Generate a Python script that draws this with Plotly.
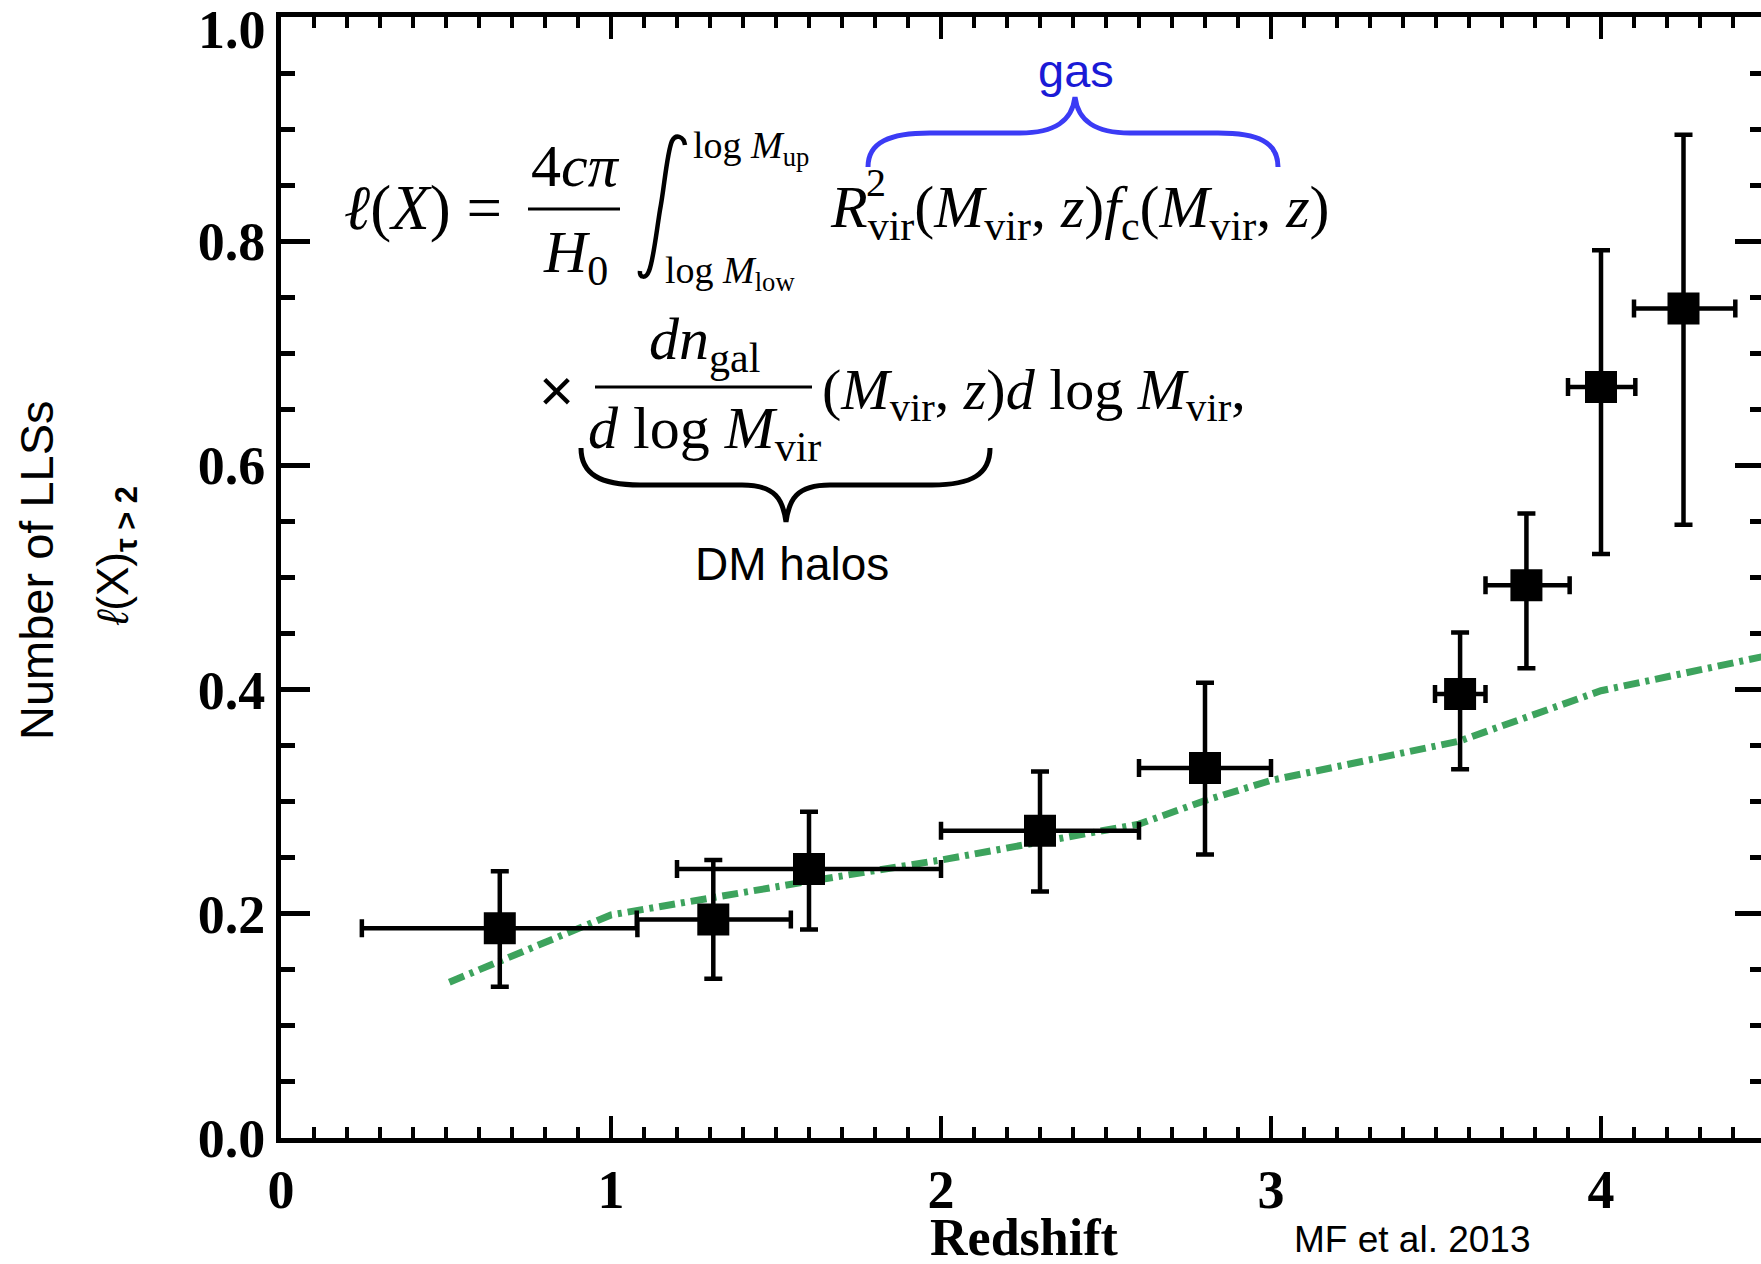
import plotly.graph_objects as go

# ---------------- data ----------------
z_center = [0.663, 1.31, 1.60, 2.30, 2.80, 3.573, 3.774, 4.00, 4.25]
z_low = [0.245, 1.078, 1.20, 2.00, 2.60, 3.497, 3.650, 3.90, 4.10]
z_high = [1.080, 1.545, 2.00, 2.60, 3.00, 3.650, 3.905, 4.104, 4.407]
lx = [0.187, 0.195, 0.240, 0.274, 0.330, 0.396, 0.493, 0.670, 0.740]
lx_low = [0.135, 0.142, 0.186, 0.220, 0.253, 0.329, 0.419, 0.521, 0.547]
lx_high = [0.238, 0.248, 0.291, 0.327, 0.406, 0.451, 0.557, 0.792, 0.895]

model_z = [0.51, 1.0, 1.6, 2.0, 2.6, 2.8, 3.0, 3.57, 4.0, 4.5]
model_l = [0.139, 0.199, 0.229, 0.248, 0.280, 0.301, 0.319, 0.354, 0.399, 0.430]

x_ticks = [0, 1, 2, 3, 4]
y_ticks = [0.0, 0.2, 0.4, 0.6, 0.8, 1.0]

# ---------------- layout geometry (pixels) ----------------
W, H = 1761, 1264
X0, Y0 = 281, 1138          # plot-area left / bottom
TOP = 17
XMAX = (W - X0) / 330.0
PXX = 330.0
PXY = float(Y0 - TOP)

SERIF = "Liberation Serif"
SANS = "Liberation Sans"


def dx(px):
    return (px - X0) / PXX


def dy(py):
    return (Y0 - py) / PXY


def ann(text, px, py, size, family=SERIF, color="black", xanchor="center",
        yanchor="middle", angle=0, weight="normal"):
    return dict(text=text, x=(px - X0) / (W - X0), y=(Y0 - py) / PXY,
                xref="paper", yref="paper",
                showarrow=False, xanchor=xanchor, yanchor=yanchor,
                textangle=angle,
                font=dict(family=family, size=size, color=color, weight=weight))


def path(cmds):
    out = []
    for c in cmds:
        if isinstance(c, str):
            out.append(c)
        else:
            out.append(f"{dx(c[0]):.5f},{dy(c[1]):.5f}")
    return " ".join(out)


fig = go.Figure()

fig.add_trace(go.Scatter(
    x=model_z, y=model_l, mode="lines",
    line=dict(color="#3da35d", width=7, dash="16px,6px,4px,6px"),
    showlegend=False, hoverinfo="skip"))

fig.add_trace(go.Scatter(
    x=z_center, y=lx, mode="markers",
    marker=dict(symbol="square", size=32, color="black"),
    error_x=dict(type="data", symmetric=False,
                 array=[h - c for h, c in zip(z_high, z_center)],
                 arrayminus=[c - l for l, c in zip(z_low, z_center)],
                 color="black", thickness=4.5, width=9),
    error_y=dict(type="data", symmetric=False,
                 array=[h - c for h, c in zip(lx_high, lx)],
                 arrayminus=[c - l for l, c in zip(lx_low, lx)],
                 color="black", thickness=4.5, width=9),
    showlegend=False, hoverinfo="skip"))

# invisible trace to host the right-hand tick axis
fig.add_trace(go.Scatter(x=[None], y=[None], yaxis="y2", showlegend=False,
                         hoverinfo="skip"))

annotations = [
    # top y tick label, nudged down so it is not clipped at the page edge
    ann(f"{y_ticks[-1]:.1f}", 268, 30, 54, weight="bold", xanchor="right"),
    # y-axis labels
    ann("Number of LLSs", 36, 570, 47, family=SANS, angle=-90),
    ann("<i>ℓ</i>(X)<sub><b>τ &gt; 2</b></sub>", 116, 556, 44, family=SANS, angle=-90),
    # x-axis title and credit
    ann("Redshift", 1024, 1237, 52, weight="bold"),
    ann("MF et al. 2013", 1412, 1239, 37, family=SANS),
    # formula line 1
    ann("<i>ℓ</i>(<i>X</i>) =", 342, 208, 63, xanchor="left"),
    ann("4<i>cπ</i>", 575, 166, 60),
    ann("<i>H</i><sub>0</sub>", 575, 256, 60),
    ann("log <i>M</i><sub>up</sub>", 691, 148, 38, xanchor="left"),
    ann("log <i>M</i><sub>low</sub>", 663, 273, 38, xanchor="left"),
    ann("<i>R</i><sub>vir</sub>(<i>M</i><sub>vir</sub>, <i>z</i>)<i>f</i><sub>c</sub>(<i>M</i><sub>vir</sub>, <i>z</i>)",
        828, 211, 60, xanchor="left"),
    ann("2", 876, 182, 40),
    # formula line 2
    ann("×", 556, 390, 60, family=SANS),
    ann("<i>dn</i><sub>gal</sub>", 704, 343, 60),
    ann("<i>d</i> log <i>M</i><sub>vir</sub>", 704, 432, 60),
    ann("(<i>M</i><sub>vir</sub>, <i>z</i>)<i>d</i> log <i>M</i><sub>vir</sub>,",
        820, 393, 58, xanchor="left"),
    # brace labels
    ann("gas", 1076, 70, 47, family=SANS, color="#1a1ad6"),
    ann("DM halos", 792, 564, 46, family=SANS),
]

shapes = [
    dict(type="line", xref="x", yref="y", x0=dx(528), x1=dx(620), y0=dy(209), y1=dy(209),
         line=dict(color="black", width=3)),
    dict(type="line", xref="x", yref="y", x0=dx(595), x1=dx(812), y0=dy(387), y1=dy(387),
         line=dict(color="black", width=3)),
    # integral sign
    dict(type="path", xref="x", yref="y", line=dict(color="black", width=4.5),
         path=path(["M", (685, 145), "C", (684, 137), (676, 133), (672, 141),
                    "C", (667, 152), (664, 190), (660, 210),
                    "C", (656, 235), (653, 262), (649, 271),
                    "C", (646, 279), (639, 278), (640, 271)])),
    # blue brace over the gas term
    dict(type="path", xref="x", yref="y", line=dict(color="#3b3bf5", width=5),
         path=path(["M", (868, 167), "C", (868, 142), (890, 133), (930, 133),
                    "L", (1020, 133), "C", (1055, 133), (1072, 121), (1075, 97),
                    "C", (1078, 121), (1095, 133), (1130, 133),
                    "L", (1218, 133), "C", (1258, 133), (1278, 142), (1278, 167)])),
    # black brace under the DM halo term
    dict(type="path", xref="x", yref="y", line=dict(color="black", width=5),
         path=path(["M", (581, 448), "C", (581, 474), (600, 485), (640, 485),
                    "L", (742, 485), "C", (776, 485), (783, 500), (786, 522),
                    "C", (789, 500), (796, 485), (830, 485),
                    "L", (932, 485), "C", (972, 485), (990, 474), (990, 448)])),
]

tickfont = dict(family=SERIF, size=54, color="black", weight="bold")

fig.update_layout(
    width=W, height=H, autosize=False,
    margin=dict(l=X0, r=0, t=TOP, b=H - Y0, pad=0, autoexpand=False),
    paper_bgcolor="white", plot_bgcolor="white",
    showlegend=False,
    annotations=annotations, shapes=shapes,
    xaxis=dict(range=[0, XMAX], showline=True, linewidth=5, linecolor="black",
               mirror="ticks", ticks="inside", ticklen=22, tickwidth=3.5, tickcolor="black",
               tickvals=x_ticks, ticktext=[str(v) for v in x_ticks],
               minor=dict(ticks="inside", ticklen=11, tickwidth=3.5, tickcolor="black",
                          dtick=0.1, tick0=0, showgrid=False),
               showgrid=False, zeroline=False, tickfont=tickfont, automargin=False,
               ticklabelstandoff=0, ticklabeloverflow="allow"),
    yaxis=dict(range=[0, 1], showline=True, linewidth=5, linecolor="black",
               ticks="inside", ticklen=29, tickwidth=4.5, tickcolor="black",
               tickvals=y_ticks,
               ticktext=[f"{v:.1f}" if v < y_ticks[-1] else "" for v in y_ticks],
               minor=dict(ticks="inside", ticklen=14, tickwidth=4.5, tickcolor="black",
                          dtick=0.05, tick0=0, showgrid=False),
               showgrid=False, zeroline=False, tickfont=tickfont, automargin=False,
               ticklabelstandoff=0, ticklabeloverflow="allow"),
    yaxis2=dict(range=[0, 1], overlaying="y", side="right", showline=False,
                ticks="inside", ticklen=26, tickwidth=4.5, tickcolor="black",
                tickvals=y_ticks, showticklabels=False, automargin=False,
                minor=dict(ticks="inside", ticklen=11, tickwidth=4.5, tickcolor="black",
                           dtick=0.05, tick0=0, showgrid=False),
                showgrid=False, zeroline=False),
)

fig.write_html("out.html")
